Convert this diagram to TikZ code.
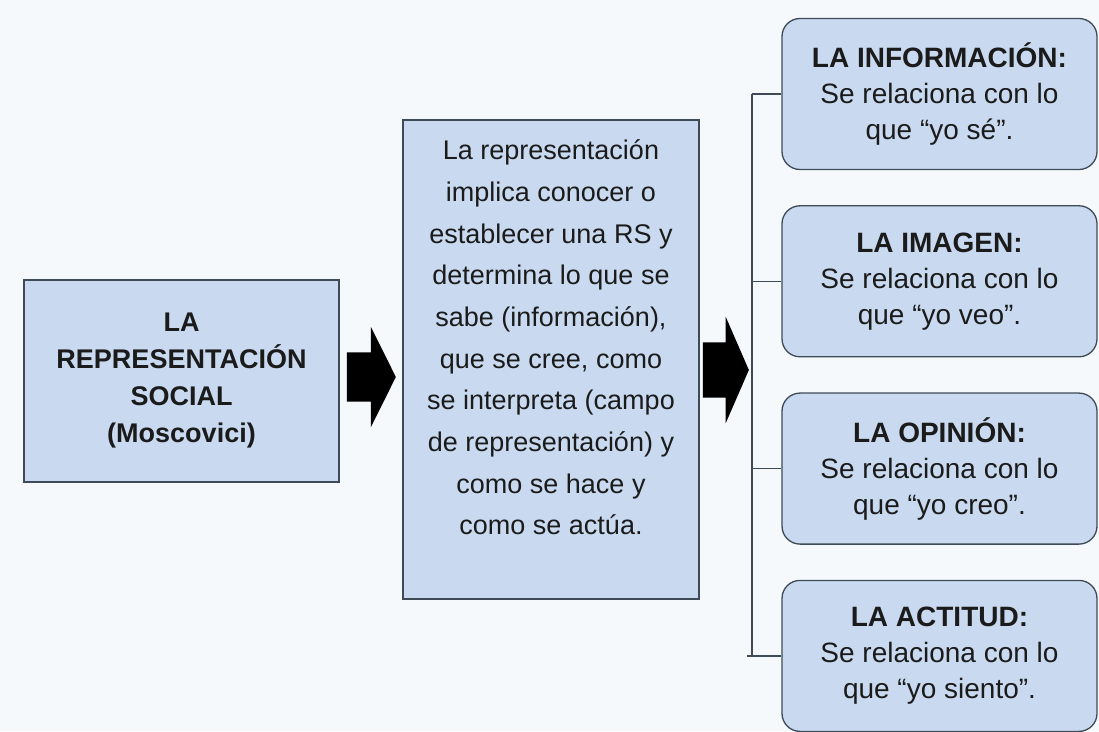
\documentclass[tikz,border=0pt]{standalone}
\usepackage{fontspec}
\setmainfont{Liberation Sans}
\usetikzlibrary{positioning, shapes.arrows}
\definecolor{boxfill}{HTML}{C9DAF0}
\definecolor{boxline}{HTML}{3E4A56}
\definecolor{paper}{HTML}{F5F9FC}
\definecolor{ink}{HTML}{1B1B1B}

\begin{document}
\begin{tikzpicture}[x=1pt, y=1pt, node distance=35pt,
  box/.style={draw=boxline, line width=1.3pt, fill=boxfill, text=ink, align=center, inner sep=0pt},
  aspect/.style={box, rounded corners=18pt, minimum width=315pt, minimum height=151pt,
    font=\fontsize{28}{36}\selectfont},
  blockarrow/.style={single arrow, fill=black, inner xsep=0pt, single arrow head extend=25.5pt},
  link/.style={draw=boxline, line width=1.3pt}]
  \fill[paper] (0,0) rectangle (1099,731);
  \useasboundingbox (0,0) rectangle (1099,731);
  \node[box, minimum width=315pt, minimum height=202pt, font=\bfseries\fontsize{27}{37}\selectfont]
    (rs) at (181.5,350) {LA\\REPRESENTACIÓN\\SOCIAL\\(Moscovici)};
  \node[box, minimum width=296pt, minimum height=479pt] (def) at (551,371.5) {};
  \node[text=ink, align=center, font=\fontsize{27}{41.7}\selectfont] (deftext) at ([yshift=22pt]def.center)
    {La representación\\implica conocer o\\establecer una RS y\\determina lo que se\\sabe (información),\\que se cree, como\\se interpreta (campo\\de representación) y\\como se hace y\\como se actúa.};
  \node[blockarrow, minimum height=49pt, inner ysep=24.5pt, single arrow tip angle=127]
    (arrowrs) [right=7pt of rs, yshift=4pt] {};
  \node[blockarrow, minimum height=46pt, inner ysep=27.5pt, single arrow tip angle=133]
    (arrowdef) [right=3pt of def, yshift=-10.5pt] {};
  \node[aspect] (info) at (939.5,637) {\textbf{LA INFORMACIÓN:}\\Se relaciona con lo\\que “yo sé”.};
  \node[aspect, below=of info] (imagen) {\textbf{LA IMAGEN:}\\Se relaciona con lo\\que “yo veo”.};
  \node[aspect, below=of imagen] (opinion) {\textbf{LA OPINIÓN:}\\Se relaciona con lo\\que “yo creo”.};
  \node[aspect, below=of opinion] (actitud) {\textbf{LA ACTITUD:}\\Se relaciona con lo\\que “yo siento”.};
  \coordinate (spine) at (752,0);
  \draw[link] (spine |- info.west) -- (spine |- actitud.west);
  \draw[link] (spine |- info.west) -- (info.west);
  \draw[link] (spine |- imagen.west) -- (imagen.west);
  \draw[link] (spine |- opinion.west) -- (opinion.west);
  \draw[link] ([xshift=-5pt]spine |- actitud.west) -- (actitud.west);
\end{tikzpicture}
\end{document}
